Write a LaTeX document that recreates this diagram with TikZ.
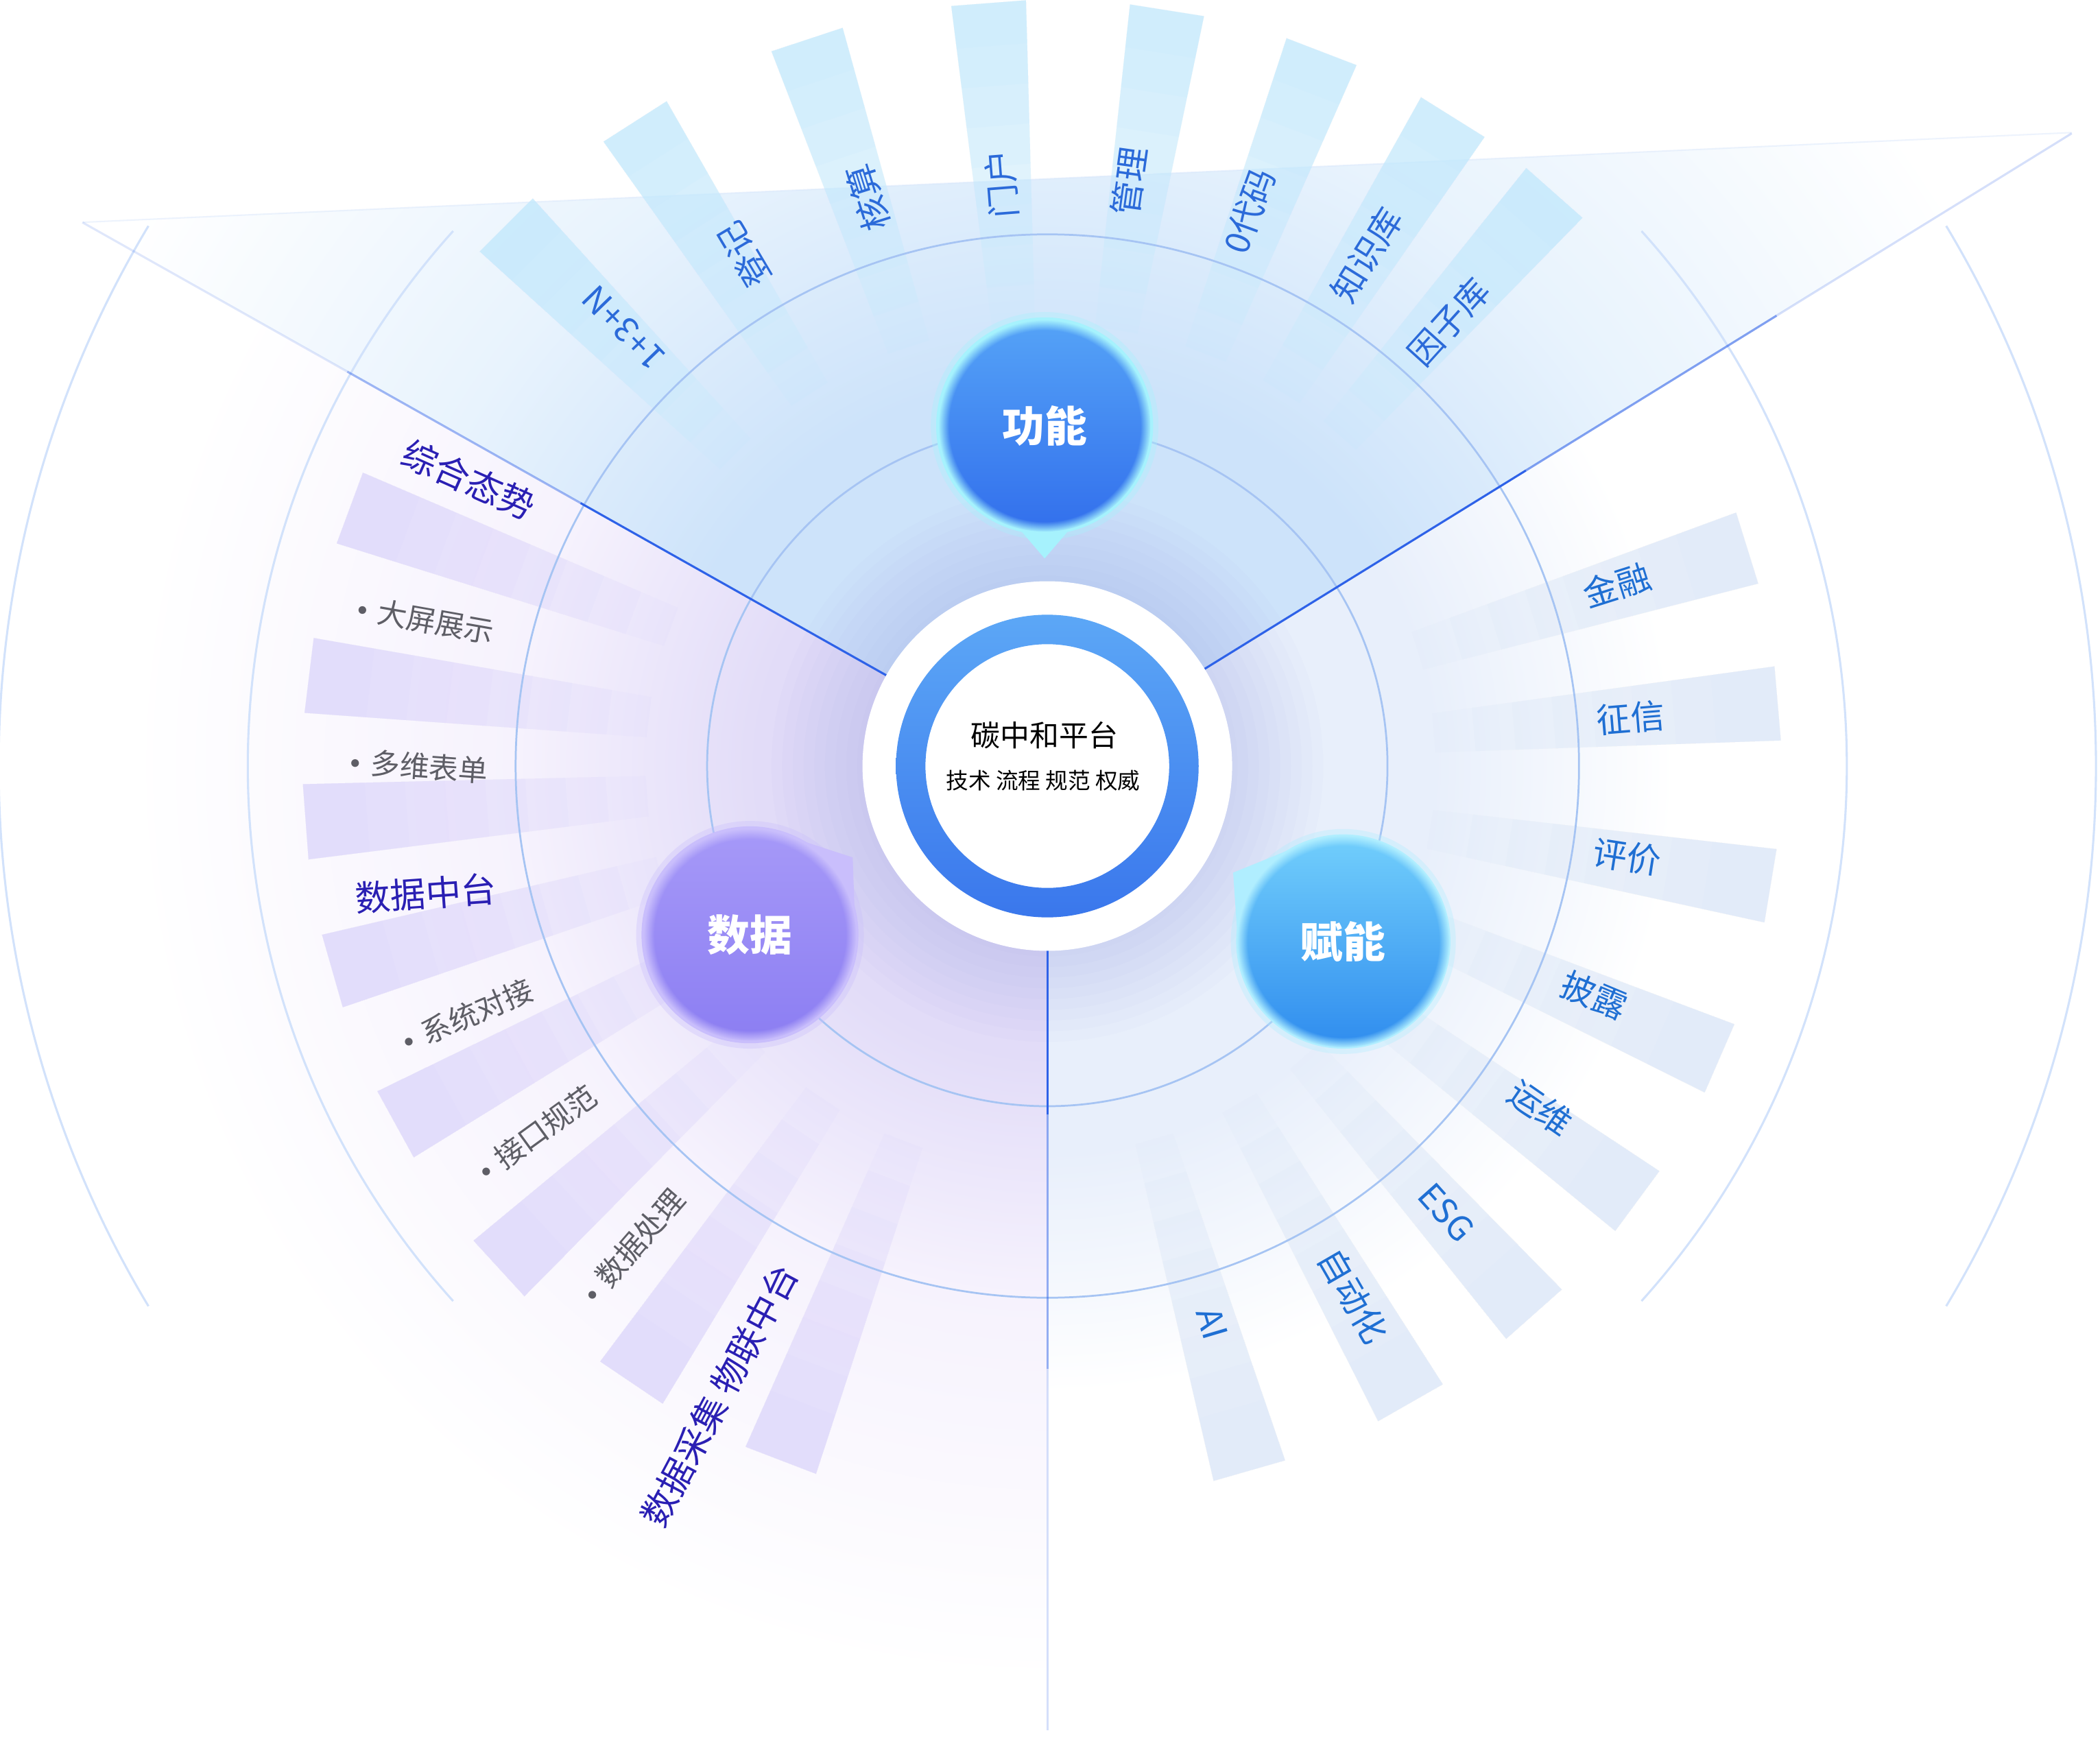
\documentclass[tikz,border=0pt]{standalone}
\usepackage{fontspec}
\setmainfont{Noto Sans CJK SC}
\usetikzlibrary{fadings}

\definecolor{topfillc}{HTML}{CDE3FA}
\definecolor{topmidc}{HTML}{E8F3FD}
\definecolor{purfillc}{HTML}{E2DCF8}
\definecolor{purmidc}{HTML}{F6F2FD}
\definecolor{rightfillc}{HTML}{E8EFFB}
\definecolor{glowc}{HTML}{9AA0E6}
\definecolor{ringc}{HTML}{A6C4F3}
\definecolor{arcc}{HTML}{D2E2FB}
\definecolor{edgec}{HTML}{2E62E8}
\definecolor{topbarc}{HTML}{C2EAFC}
\definecolor{leftbarc}{HTML}{DCD5FB}
\definecolor{rightbarc}{HTML}{DAE6F9}
\definecolor{toptextc}{HTML}{2B6AD9}
\definecolor{righttextc}{HTML}{1F6FD3}
\definecolor{headc}{HTML}{2A1FB3}
\definecolor{itemc}{HTML}{5E5E66}
\definecolor{ringtopc}{HTML}{5CA7F6}
\definecolor{ringbotc}{HTML}{3A77EC}
\definecolor{gnrimc}{HTML}{A6F2FD}
\definecolor{sjrimc}{HTML}{C9BEFC}
\definecolor{fnrimc}{HTML}{B0EEFF}

\pgfdeclareradialshading{topshade}{\pgfpointorigin}{color(0bp)=(topfillc); color(8bp)=(topfillc); color(14bp)=(topmidc); color(22bp)=(white); color(50bp)=(white)}
\pgfdeclareradialshading{purshade}{\pgfpointorigin}{color(0bp)=(purfillc); color(6bp)=(purfillc); color(11bp)=(purmidc); color(19bp)=(white); color(50bp)=(white)}
\pgfdeclareradialshading{rightshade}{\pgfpointorigin}{color(0bp)=(rightfillc); color(8bp)=(rightfillc); color(13bp)=(white); color(50bp)=(white)}

\newcommand{\itemdot}{\raisebox{2pt}{\footnotesize$\bullet$}\hspace{.35em}}

\begin{document}
\begin{tikzpicture}[x=0.2mm, y=0.2mm]
    \tikzset{
        ringline/.style={draw=ringc, line width=0.8pt},
        arcline/.style={draw=arcc, line width=0.9pt},
        edgeline/.style={draw=edgec, line width=0.9pt},
        bubble/.style={circle, minimum size=31.6mm, inner sep=0pt, text=white,
            font=\bfseries\fontsize{18}{18}\selectfont, path fading=circle with fuzzy edge 10 percent},
        toplabel/.style={text=toptextc, font=\fontsize{14.5}{16}\selectfont, inner sep=1pt},
        rightlabel/.style={text=righttextc, font=\fontsize{14.5}{16}\selectfont, inner sep=1pt},
        headlabel/.style={text=headc, font=\fontsize{15}{16}\selectfont, inner sep=1pt},
        itemlabel/.style={text=itemc, font=\fontsize{12.5}{14}\selectfont, inner sep=1pt}
    }
    \useasboundingbox[fill=white] (-782,-730) rectangle (786,572);

    \begin{scope}
        \clip (0,0) -- (-720,406) -- (765,473) -- cycle;
        \shade[shading=topshade] (0,0) circle (900);
    \end{scope}
    \begin{scope}
        \clip (0,0) -- (150.6:1300) -- (210:1300) -- (270:1300) -- cycle;
        \shade[shading=purshade] (0,0) circle (900);
    \end{scope}
    \begin{scope}
        \clip (0,0) -- (270:1300) -- (330:1300) -- (31.7:1300) -- cycle;
        \shade[shading=rightshade] (0,0) circle (900);
    \end{scope}
    \draw[arcc, line width=0.6pt, opacity=.4] (-720,406) -- (765,473);

    \foreach \r in {206,198,...,142}
        \fill[glowc, opacity=.035] (0,0) circle (\r);

    \foreach \a in {135,122.6,108.3,94.4,81,69,58,48.5}
        \foreach \r in {330,360,...,540}
            \fill[topbarc, opacity=.15] (\a-2.8:\r) -- (\a-2.8:572) -- (\a+2.8:572) -- (\a+2.8:\r) -- cycle;
    \foreach \a in {159.7,173,184.3,196,208.8,222.5,236,249}
        \foreach \r in {300,330,...,510}
            \fill[leftbarc, opacity=.14] (\a-2.9:\r) -- (\a-2.9:556) -- (\a+2.9:556) -- (\a+2.9:\r) -- cycle;
    \foreach \a in {17.3,4.9,-9.4,-23.5,-36.4,-48.4,-60.3,-74}
        \foreach \r in {290,320,...,500}
            \fill[rightbarc, opacity=.14] (\a-2.9:\r) -- (\a-2.9:548) -- (\a+2.9:548) -- (\a+2.9:\r) -- cycle;

    \draw[ringline] (0,0) circle (254);
    \draw[ringline] (0,0) circle (397);
    \draw[arcline] (138:597) arc[start angle=138, end angle=222, radius=597];
    \draw[arcline] (42:597) arc[start angle=42, end angle=-42, radius=597];
    \draw[arcline] (149:783) arc[start angle=149, end angle=211, radius=783];
    \draw[arcline] (31:783) arc[start angle=31, end angle=-31, radius=783];

    \draw[edgeline] (150.6:138) -- (150.6:400);
    \draw[edgeline, opacity=.45] (150.6:400) -- (150.6:600);
    \draw[edgeline, opacity=.15] (150.6:600) -- (150.6:827);
    \draw[edgeline] (31.7:138) -- (31.7:420);
    \draw[edgeline, opacity=.6] (31.7:420) -- (31.7:640);
    \draw[edgeline, opacity=.2] (31.7:640) -- (31.7:899);
    \draw[edgeline] (270:138) -- (270:260);
    \draw[edgeline, opacity=.5] (270:260) -- (270:450);
    \draw[edgeline, opacity=.2] (270:450) -- (270:720);

    \node[circle, fill=white, minimum size=55.2mm, inner sep=0pt] (hub) at (0,0) {};
    \shade[top color=ringtopc, bottom color=ringbotc, even odd rule] (hub.center) circle (113) circle (91);
    \node[font=\fontsize{12.5}{14}\selectfont] (title) at (-2,23) {碳中和平台};
    \node[font=\fontsize{9.5}{11}\selectfont] (motto) at (-3,-11) {技术 流程 规范 权威};

    \coordinate (gn) at (-2,254);
    \coordinate (sj) at (-222,-126);
    \coordinate (fn) at (221,-131);
    \fill[gnrimc] ([shift={(-104:79)}]gn) -- ([shift={(-90:99)}]gn) -- ([shift={(-76:79)}]gn) -- cycle;
    \fill[sjrimc] ([shift={(7:79)}]sj) -- ([shift={(37:96)}]sj) -- ([shift={(67:79)}]sj) -- cycle;
    \fill[fnrimc] ([shift={(118:79)}]fn) -- ([shift={(148:97)}]fn) -- ([shift={(178:79)}]fn) -- cycle;
    \fill[gnrimc, opacity=.35] (gn) circle (85);
    \fill[gnrimc] (gn) circle (81);
    \fill[sjrimc, opacity=.35] (sj) circle (85);
    \fill[sjrimc] (sj) circle (81);
    \fill[fnrimc, opacity=.35] (fn) circle (84);
    \fill[fnrimc] (fn) circle (80);
    \node[bubble, top color={rgb,255:red,85;green,163;blue,247}, bottom color={rgb,255:red,50;green,111;blue,236}] (gongneng) at (gn) {功能};
    \node[bubble, top color={rgb,255:red,166;green,153;blue,248}, bottom color={rgb,255:red,140;green,126;blue,242}] (shuju) at (sj) {数据};
    \node[bubble, top color={rgb,255:red,114;green,207;blue,252}, bottom color={rgb,255:red,47;green,140;blue,238}] (funeng) at (fn) {赋能};

    \foreach \a/\r/\t [count=\i] in {134/455/1+3+N, 120.7/444/登记, 107.5/445/核算, 94.5/436/门户, 82/441/管理, 70/441/0代码, 58/450/知识库, 47.9/447/因子库}
        \node[toplabel, rotate=\a] (top\i) at (\a:\r) {\t};
    \foreach \a/\r/\t [count=\i] in {17.6/446/金融, 4.7/437/征信, -8.9/438/评价, -22.7/443/披露, -34.7/448/运维, -48.2/447/ESG, -60/457/自动化, -73.5/434/AI}
        \node[rightlabel, rotate=\a] (right\i) at (\a:\r) {\t};

    \node[headlabel, rotate=-24] (zonghe) at (-432,214) {综合态势};
    \node[itemlabel, rotate=-10] (daping) at (-464,109) {\itemdot 大屏展示};
    \node[itemlabel, rotate=-4] (biaodan) at (-469,0) {\itemdot 多维表单};
    \node[headlabel, rotate=4] (zhongtai) at (-464,-95) {数据中台};
    \node[itemlabel, rotate=23] (duijie) at (-433,-186) {\itemdot 系统对接};
    \node[itemlabel, rotate=36] (guifan) at (-381,-274) {\itemdot 接口规范};
    \node[itemlabel, rotate=49] (chuli) at (-309,-358) {\itemdot 数据处理};
    \node[headlabel, rotate=62] (caiji) at (-245,-470) {数据采集 物联中台};
\end{tikzpicture}
\end{document}
